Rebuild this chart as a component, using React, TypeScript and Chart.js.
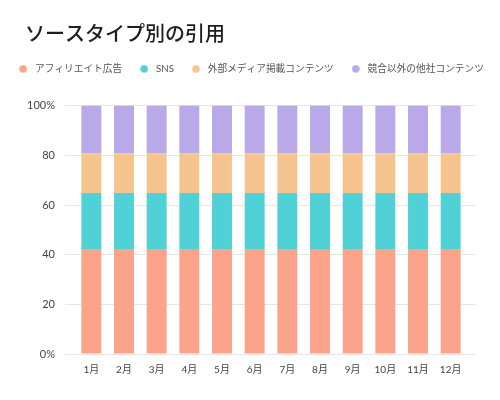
import React, { useEffect, useRef } from "react";
import { Chart, registerables } from "chart.js";

Chart.register(...registerables);

const months = ["1月", "2月", "3月", "4月", "5月", "6月", "7月", "8月", "9月", "10月", "11月", "12月"];
const seriesNames = ["アフィリエイト広告", "SNS", "外部メディア掲載コンテンツ", "競合以外の他社コンテンツ"];
const affiliate = [42.3, 42.3, 42.3, 42.3, 42.3, 42.3, 42.3, 42.3, 42.3, 42.3, 42.3, 42.3];
const sns = [22.5, 22.5, 22.5, 22.5, 22.5, 22.5, 22.5, 22.5, 22.5, 22.5, 22.5, 22.5];
const media = [16.1, 16.1, 16.1, 16.1, 16.1, 16.1, 16.1, 16.1, 16.1, 16.1, 16.1, 16.1];
const others = [19.9, 19.9, 19.9, 19.9, 19.9, 19.9, 19.9, 19.9, 19.9, 19.9, 19.9, 19.9];
const yTicks = [0, 20, 40, 60, 80, 100];
const colors = ["#FBA38B", "#50D1D6", "#F6C48F", "#B9A9E9"];

const FONT = "Lato, 'Noto Sans CJK JP', sans-serif";

function makeDot(color: string): HTMLCanvasElement {
  const c = document.createElement("canvas");
  c.width = 8;
  c.height = 8;
  const ctx = c.getContext("2d");
  if (ctx) {
    ctx.fillStyle = color;
    ctx.beginPath();
    ctx.arc(4, 4, 3.8, 0, Math.PI * 2);
    ctx.fill();
  }
  return c;
}

const layoutTweaks = {
  id: "layoutTweaks",
  beforeInit(chart: any) {
    const legend = chart.legend;
    if (legend) {
      const fit = legend.fit;
      legend.fit = function () {
        fit.call(legend);
        this.height += 22;
      };
    }
  },
  afterLayout(chart: any) {
    if (chart.titleBlock) {
      chart.titleBlock.left = 25;
    }
  },
};

export default function App() {
  const ref = useRef<HTMLCanvasElement | null>(null);
  useEffect(() => {
    document.body.style.margin = "0";
    const values = [affiliate, sns, media, others];
    const chart = new Chart(ref.current as HTMLCanvasElement, {
      type: "bar",
      data: {
        labels: months,
        datasets: seriesNames.map((name, i) => ({
          label: name,
          data: values[i],
          backgroundColor: colors[i],
          pointStyle: makeDot(colors[i]),
          borderWidth: 0,
          barPercentage: 0.61,
          categoryPercentage: 1,
        })),
      },
      plugins: [layoutTweaks],
      options: {
        animation: false,
        responsive: false,
        layout: { padding: { left: 0, right: 0, top: 0, bottom: 14 } },
        plugins: {
          title: {
            display: true,
            text: "ソースタイプ別の引用",
            align: "start",
            color: "#1e1e1e",
            font: { family: FONT, size: 20, weight: "500" },
            padding: { top: 23, bottom: 2 },
          },
          legend: {
            display: true,
            position: "top",
            labels: {
              usePointStyle: true,
              pointStyleWidth: 14,
              boxHeight: 5.5,
              padding: 15,
              color: "#555555",
              font: { family: FONT, size: 9.7 },
            },
          },
          tooltip: { enabled: false },
        },
        scales: {
          x: {
            stacked: true,
            grid: { display: false, drawTicks: false },
            border: { display: false },
            ticks: {
              color: "#444444",
              padding: 10,
              font: { family: FONT, size: 10 },
            },
          },
          y: {
            stacked: true,
            min: 0,
            max: 100,
            afterBuildTicks: (scale: any) => {
              scale.ticks = yTicks.map((v) => ({ value: v }));
            },
            afterFit: (scale: any) => {
              scale.width = 75;
            },
            grid: { color: "#e6e6e6", tickLength: 10, lineWidth: 1 },
            border: { display: false },
            ticks: {
              color: "#444444",
              padding: 10,
              font: { family: FONT, size: 11 },
              callback: (v: any) => (v === 0 || v === 100 ? `${v}%` : `${v}`),
            },
          },
          y2: {
            position: "right",
            min: 0,
            max: 100,
            afterBuildTicks: (scale: any) => {
              scale.ticks = yTicks.map((v) => ({ value: v }));
            },
            afterFit: (scale: any) => {
              scale.width = 33;
            },
            grid: { color: "#e6e6e6", tickLength: 9, drawOnChartArea: false },
            border: { display: false },
            ticks: { display: false },
          },
        },
      },
    });
    return () => chart.destroy();
  }, []);
  return (
    <div style={{ width: 500, height: 400 }}>
      <canvas ref={ref} width={500} height={400} style={{ width: 500, height: 400 }} />
    </div>
  );
}
